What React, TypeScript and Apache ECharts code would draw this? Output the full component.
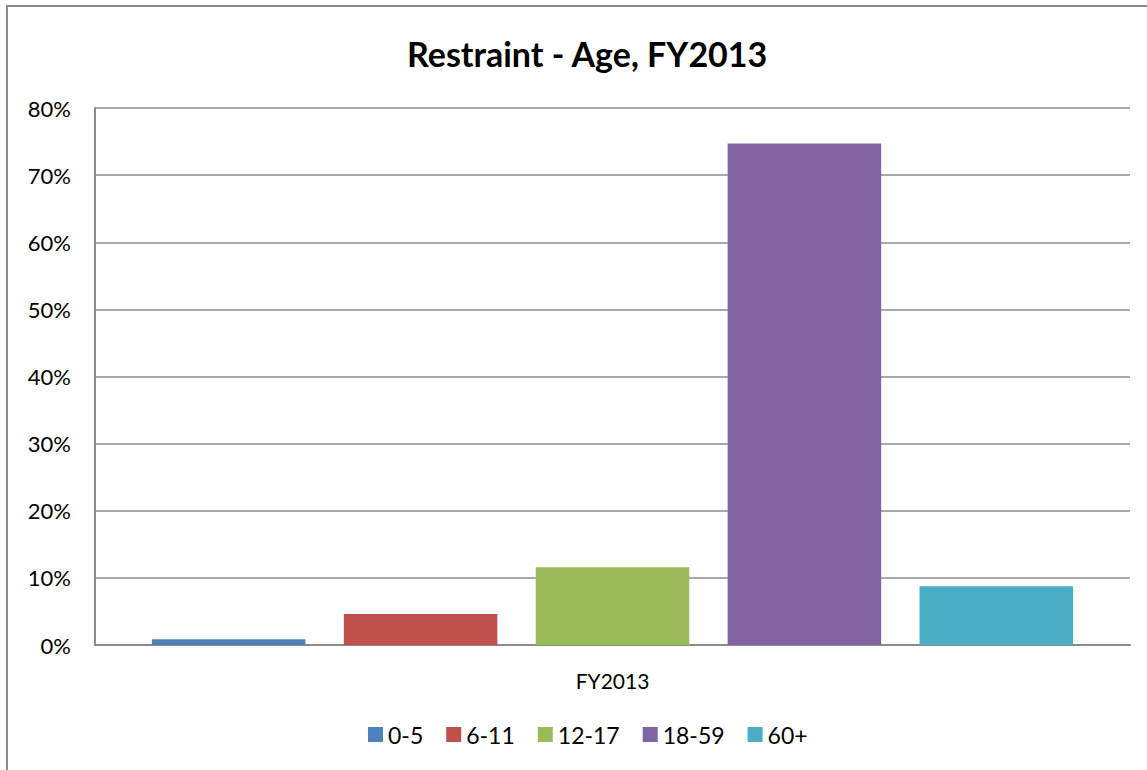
import React, { useEffect, useRef } from "react";
import * as echarts from "echarts";

const categories = ["FY2013"];
const seriesNames = ["0-5", "6-11", "12-17", "18-59", "60+"];
const seriesValues = [[0.85], [4.6], [11.6], [74.7], [8.75]];
const seriesColors = ["#4F81BD", "#C0504D", "#9BBB59", "#8064A2", "#4BACC6"];
const yTicks = { min: 0, max: 80, interval: 10 };
const titleText = "Restraint - Age, FY2013";

const FONT = "Lato, 'Open Sans', sans-serif";

export default function App() {
  const ref = useRef<HTMLDivElement>(null);
  useEffect(() => {
    if (!ref.current) return;
    const chart = echarts.init(ref.current, null, { renderer: "svg" });
    chart.setOption({
      animation: false,
      backgroundColor: "#ffffff",
      title: {
        text: titleText,
        left: 402,
        top: 31,
        textStyle: { fontFamily: FONT, fontSize: 34, fontWeight: "bold", color: "#000" },
      },
      graphic: [
        {
          type: "rect",
          shape: { x: 7, y: 6, width: 1200, height: 800 },
          style: { fill: "none", stroke: "#8c8c8c", lineWidth: 2 },
          z: 100,
        },
      ],
      legend: {
        bottom: 19,
        left: 363,
        itemWidth: 15,
        itemHeight: 15,
        itemGap: 23,
        icon: "rect",
        textStyle: { fontFamily: FONT, fontSize: 23, color: "#000" },
        data: seriesNames,
      },
      grid: { left: 95, right: 17, top: 108, bottom: 125 },
      xAxis: {
        type: "category",
        data: categories,
        axisLine: { lineStyle: { color: "#8c8c8c", width: 2 } },
        axisTick: { show: false },
        axisLabel: { fontFamily: FONT, fontSize: 21, color: "#000", margin: 25 },
      },
      yAxis: {
        type: "value",
        min: yTicks.min,
        max: yTicks.max,
        interval: yTicks.interval,
        axisLine: { show: true, lineStyle: { color: "#8c8c8c", width: 2 } },
        axisTick: { show: false },
        splitLine: { lineStyle: { color: "#8c8c8c", width: 1.5 } },
        axisLabel: {
          fontFamily: FONT,
          fontSize: 22,
          color: "#000",
          margin: 24,
          formatter: (v: number) => `${v}%`,
        },
      },
      series: seriesNames.map((name, i) => ({
        name,
        type: "bar",
        data: seriesValues[i],
        itemStyle: { color: seriesColors[i] },
        barGap: "25%",
        barCategoryGap: "11%",
      })),
    });
    return () => chart.dispose();
  }, []);
  return (
    <div
      ref={ref}
      style={{ position: "fixed", left: 0, top: 0, width: 1147, height: 770 }}
    />
  );
}
